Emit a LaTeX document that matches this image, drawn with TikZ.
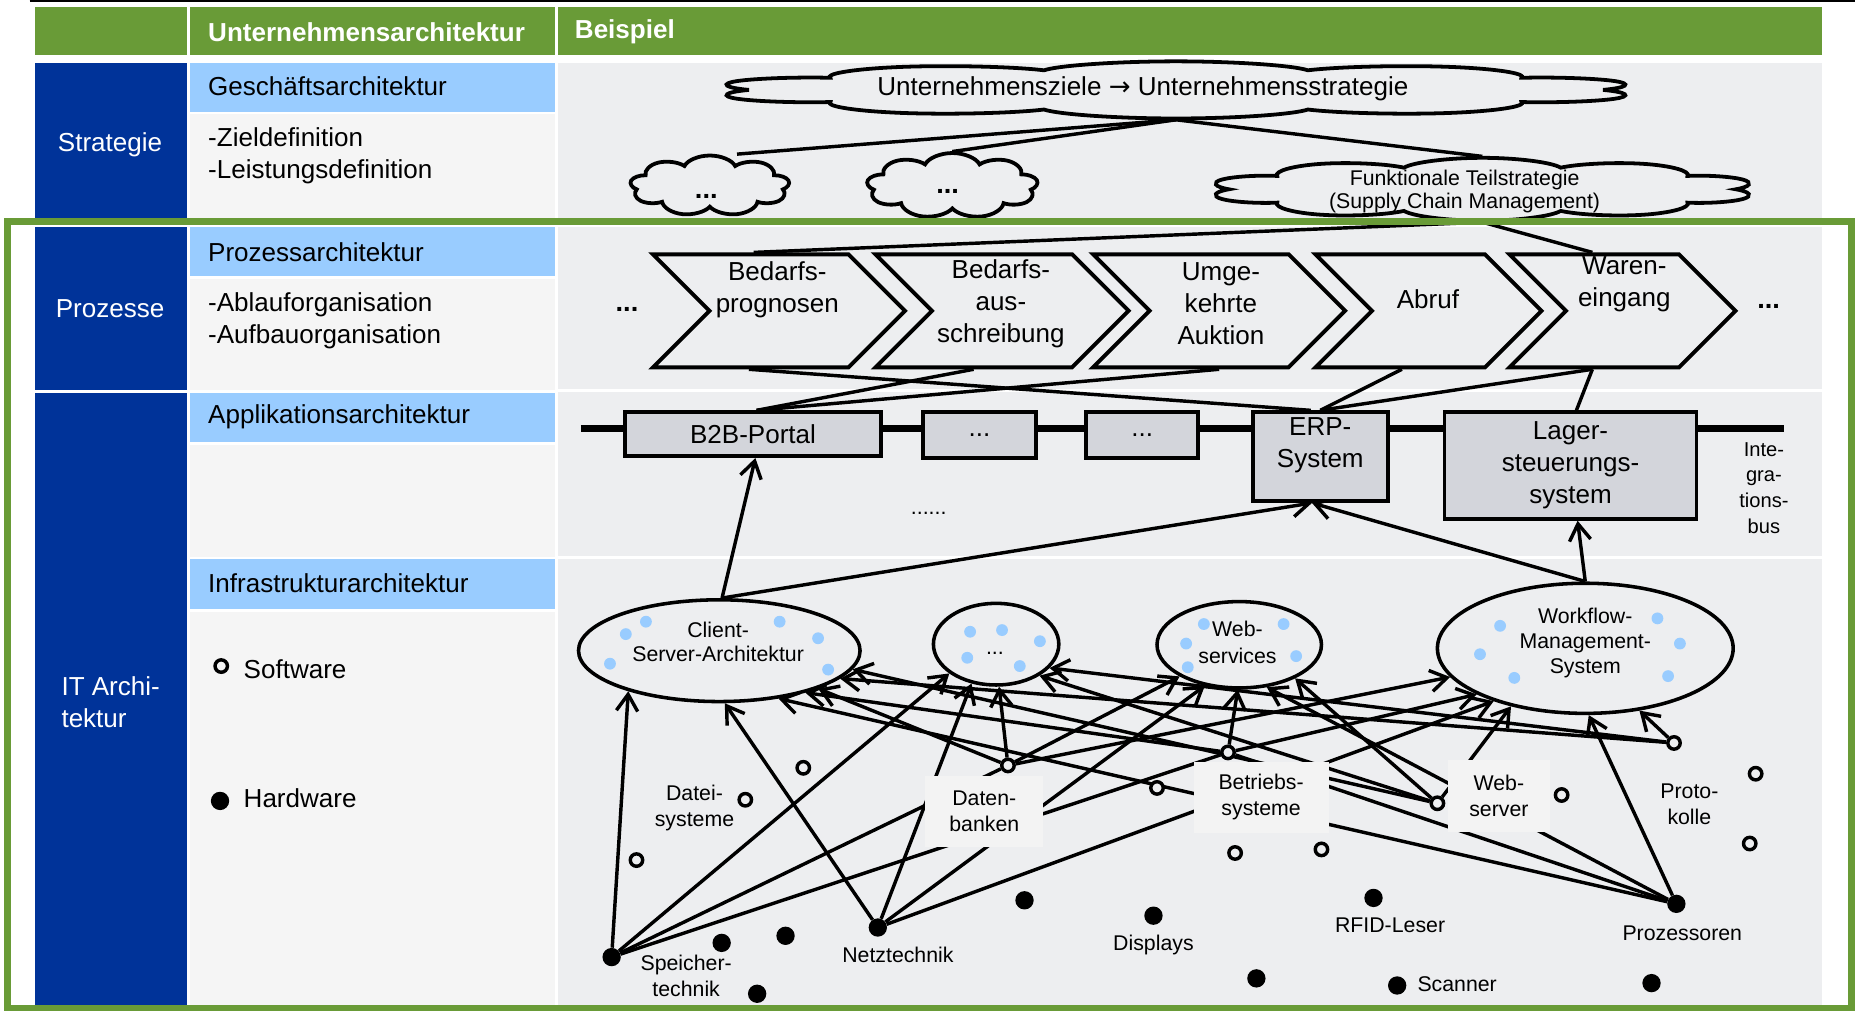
\documentclass[tikz,border=0pt]{standalone}
\usepackage{fontspec}
\setmainfont{Liberation Sans}
\newfontfamily\arrowfont{DejaVu Sans}
\usetikzlibrary{shapes.geometric,shapes.symbols,arrows.meta}

\definecolor{hdrgreen}{HTML}{699B37}
\definecolor{darkblue}{HTML}{003399}
\definecolor{lightblue}{HTML}{99CCFF}
\definecolor{cellgrey}{HTML}{F5F5F5}
\definecolor{bggrey}{HTML}{EDEEF0}
\definecolor{boxgrey}{HTML}{D3D5DB}
\definecolor{labelgrey}{HTML}{F3F3F3}

\newcommand{\fsz}[2]{\fontsize{#1}{#2}\selectfont}

\pgfdeclarelayer{background}
\pgfdeclarelayer{wires}
\pgfdeclarelayer{front}
\pgfsetlayers{background,wires,main,front}

\tikzset{
  txt/.style={inner sep=0pt, outer sep=0pt, font=\fsz{22}{27}},
  hdr/.style={txt, text=white, font=\bfseries\fsz{22}{24}},
  side/.style={txt, text=white},
  smalltxt/.style={inner sep=0pt, font=\fsz{18}{22}},
  conn/.style={line width=2.9pt, line join=round},
  arr/.style={conn, -{Straight Barb[length=14pt, width=18pt]}},
  busline/.style={line width=6pt},
  cloudsty/.style={cloud, cloud ignores aspect, cloud puffs=10, draw, line width=3.2pt,
                   fill=bggrey, inner sep=0pt, minimum width=100, minimum height=70, transform shape},
  chev/.style={signal, signal from=west, signal to=east, signal pointer angle=90, draw, line width=3.3pt, fill=bggrey, minimum height=95.5, inner sep=0pt},
  appbox/.style={rectangle, draw, line width=3.3pt, fill=boxgrey, inner sep=0pt, align=center, font=\fsz{22}{27}},
  ell/.style={ellipse, draw, line width=3pt, fill=bggrey, inner sep=0pt},
  softc/.style={circle, draw, line width=2.9pt, fill=bggrey, minimum size=10.5, inner sep=0pt},
  hardc/.style={circle, fill=black, minimum size=15.5, inner sep=0pt},
  lblbox/.style={rectangle, fill=labelgrey, inner sep=0pt, align=center, font=\fsz{18}{22}},
}

\begin{document}
\begin{tikzpicture}[x=1pt,y=-1pt]
\useasboundingbox (0,0) rectangle (1568,854);

% ---------- table grid ----------
\begin{pgfonlayer}{background}
  \draw[line width=1.5pt] (25,1) -- (1568,1);
  \fill[hdrgreen] (30,6) rectangle (158,46.5);
  \fill[hdrgreen] (160.5,6) rectangle (469.5,46.5);
  \fill[hdrgreen] (472,6) rectangle (1540,46.5);
  \fill[darkblue] (30,53.5) rectangle (158,186);
  \fill[darkblue] (30,192) rectangle (158,329.5);
  \fill[darkblue] (30,332) rectangle (158,854);
  \fill[lightblue] (160.5,53.5) rectangle (469.5,94.5);
  \fill[cellgrey]  (160.5,96.5) rectangle (469.5,186);
  \fill[lightblue] (160.5,192) rectangle (469.5,233.5);
  \fill[cellgrey]  (160.5,235.5) rectangle (469.5,329.5);
  \fill[lightblue] (160.5,332) rectangle (469.5,374);
  \fill[cellgrey]  (160.5,376) rectangle (469.5,470.5);
  \fill[lightblue] (160.5,472.5) rectangle (469.5,515);
  \fill[cellgrey]  (160.5,517) rectangle (469.5,854);
  \fill[bggrey] (472,53.5) rectangle (1540,186);
  \fill[bggrey] (472,192) rectangle (1540,329);
  \fill[bggrey] (472,331.5) rectangle (1540,470);
  \fill[bggrey] (472,472.5) rectangle (1540,854);
\end{pgfonlayer}

% ---------- header and left columns ----------
\node[hdr, anchor=west] (h1) at (176,27) {Unternehmensarchitektur};
\node[hdr, anchor=west] (h2) at (486,27) {Beispiel};

\node[side] (strat) at (93,122) {Strategie};
\node[side] (proz) at (93,261) {Prozesse};
\node[side, anchor=west, align=left] (itarch) at (52,593.5) {IT Archi-\\tektur};

\node[txt, anchor=west] (ga) at (176,73) {Geschäftsarchitektur};
\node[txt, anchor=west, align=left] (gal) at (176,132) {-Zieldefinition\\-Leistungsdefinition};
\node[txt, anchor=west] (pa) at (176,213) {Prozessarchitektur};
\node[txt, anchor=west, align=left] (pal) at (176,271) {-Ablauforganisation\\-Aufbauorganisation};
\node[txt, anchor=west] (aa) at (176,352) {Applikationsarchitektur};
\node[txt, anchor=west] (ia) at (176,493) {Infrastrukturarchitektur};
\node[softc, fill=cellgrey] (lgs) at (187,563) {};
\node[txt, anchor=west] (lgst) at (206,566) {Software};
\node[hardc] (lgh) at (186,677) {};
\node[txt, anchor=west] (lght) at (206,675) {Hardware};

% ---------- strategy clouds (a base cloud stretched to size) ----------
\begin{scope}[shift={(994,76)}, xscale=7.8, yscale=0.69]
  \node[cloudsty] (cz) at (0,0) {};
\end{scope}
\begin{scope}[shift={(600,157)}, xscale=1.35, yscale=0.73]
  \node[cloudsty, cloud puffs=9] (cl1) at (0,0) {};
\end{scope}
\begin{scope}[shift={(805,157)}, xscale=1.45, yscale=0.79]
  \node[cloudsty, cloud puffs=9] (cl2) at (0,0) {};
\end{scope}
\begin{scope}[shift={(1253,160)}, xscale=4.63, yscale=0.76]
  \node[cloudsty] (cl3) at (0,0) {};
\end{scope}
\node[txt, font=\fsz{22}{24}] (czt) at (966,75) {Unternehmensziele {\arrowfont →} Unternehmensstrategie};
\node[txt, font=\bfseries\fsz{23}{24}] (cl1t) at (597,166) {...};
\node[txt, font=\bfseries\fsz{23}{24}] (cl2t) at (801,162) {...};
\node[smalltxt, align=center, font=\fsz{18}{20}] (ft) at (1238,162) {Funktionale Teilstrategie\\(Supply Chain Management)};

% ---------- process chevrons ----------
\node[chev, minimum width=213] (ch1) at (658.5,262.75) {};
\node[chev, minimum width=214] (ch2) at (847,262.75) {};
\node[chev, minimum width=213] (ch3) at (1030.5,262.75) {};
\node[chev, minimum width=191] (ch4) at (1207.5,262.75) {};
\node[chev, minimum width=191] (ch5) at (1371.5,262.75) {};
\node[txt, align=center] (ch1t) at (657,245) {Bedarfs-\\prognosen};
\node[txt, align=center] (ch2t) at (846,257) {Bedarfs-\\aus-\\schreibung};
\node[txt, align=center] (ch3t) at (1032,257) {Umge-\\kehrte\\Auktion};
\node[txt] (ch4t) at (1207,253) {Abruf};
\node[txt, align=center] (ch5t) at (1373,240) {Waren-\\eingang};
\node[txt, font=\bfseries\fsz{23}{24}] (pdl) at (530,262) {...};
\node[txt, font=\bfseries\fsz{23}{24}] (pdr) at (1495,259) {...};

% ---------- applications on the integration bus ----------
\coordinate (busl) at (491,362.5);
\coordinate (busr) at (1508,362.5);
\node[appbox, minimum width=217, minimum height=37] (b2b) at (636.5,367) {B2B-Portal};
\node[appbox, minimum width=95, minimum height=39] (d1) at (828,368) {...};
\node[appbox, minimum width=95, minimum height=39] (d2) at (965.5,368) {...};
\node[appbox, minimum width=114, minimum height=75] (erp) at (1116,386) {};
\node[txt, align=center] (erpt) at (1116,376) {ERP-\\System};
\node[appbox, minimum width=213, minimum height=90] (lager) at (1327.5,393.5) {Lager-\\steuerungs-\\system};
\node[txt, align=center, font=\fsz{17}{21.7}] (ibus) at (1491,412.5) {Inte-\\gra-\\tions-\\bus};
\node[txt, font=\fsz{18}{20}] (adots) at (785,434) {......};

% ---------- infrastructure: architecture styles ----------
\node[ell, minimum width=238, minimum height=86] (cs) at (608,550) {};
\node[ell, minimum width=106, minimum height=69] (dots) at (842,544.5) {};
\node[ell, minimum width=139, minimum height=73] (ws) at (1047.5,545) {};
\node[ell, minimum width=250, minimum height=110] (wf) at (1340,548) {};
\node[smalltxt, align=center, font=\fsz{18}{20}] (cst) at (607,542.5) {Client-\\Server-Architektur};
\node[smalltxt] (dotst) at (841,552) {...};
\node[smalltxt, align=center] (wst) at (1046,543) {Web-\\services};
\node[smalltxt, align=center, font=\fsz{18}{21.5}] (wft) at (1340,543.5) {Workflow-\\Management-\\System};

% light blue points inside the styles
\foreach \p in {(529,536),(546,525.5),(659,525.5),(691.5,539.5),(515.6,561),(700,566),
                (820,534),(847,532.6),(879,542),(817.6,556),(862,563),
                (1017.6,527.5),(1002.6,544),(1004,564),(1085,527.5),(1095.6,554.6),
                (1268,529),(1251,553),(1280,573),(1401,522.7),(1420,544),(1410,571.5)}
  \fill[lightblue] \p circle (5);

% ---------- software components ----------
\node[softc] (s1) at (679,649) {};
\node[softc] (s2) at (630,676) {};
\node[softc] (s3) at (538,727) {};
\node[softc] (sdb) at (852,647) {};
\node[softc] (s5) at (978,666) {};
\node[softc] (sbs) at (1038,636) {};
\node[softc] (s7) at (1044,721) {};
\node[softc] (s8) at (1117,718) {};
\node[softc] (sws) at (1215,679) {};
\node[softc] (s10) at (1320,672) {};
\node[softc] (spr) at (1415,628) {};
\node[softc] (s12) at (1484,654) {};
\node[softc] (s13) at (1479,713) {};

% ---------- hardware components ----------
\node[hardc] (hsp) at (517,809) {};
\node[hardc] (h2) at (610,797) {};
\node[hardc] (h3) at (664,791) {};
\node[hardc] (h4) at (640,840) {};
\node[hardc] (hnt) at (742,784) {};
\node[hardc] (h6) at (866,761) {};
\node[hardc] (h7) at (975,774) {};
\node[hardc] (h8) at (1062,827) {};
\node[hardc] (h9) at (1161,759) {};
\node[hardc] (h10) at (1181,833) {};
\node[hardc] (hpz) at (1417,764) {};
\node[hardc] (h12) at (1396,831) {};

% ---------- component labels ----------
\node[lblbox, minimum width=100, minimum height=60] (dbl) at (832,686) {Daten-\\banken};
\node[lblbox, minimum width=114, minimum height=60] (bsl) at (1066,674) {Betriebs-\\systeme};
\node[lblbox, minimum width=86, minimum height=61] (wsl) at (1267,672.5) {Web-\\server};
\node[smalltxt, align=center] (dsl) at (587,683) {Datei-\\systeme};
\node[smalltxt, align=center] (prl) at (1428,679.5) {Proto-\\kolle};
\node[smalltxt, align=center] (spl) at (580,825) {Speicher-\\technik};
\node[smalltxt] (ntl) at (759,807) {Netztechnik};
\node[smalltxt] (dpl) at (975,799) {Displays};
\node[smalltxt] (rfl) at (1175,782) {RFID-Leser};
\node[smalltxt, anchor=west] (scl) at (1198,832) {Scanner};
\node[smalltxt] (pzl) at (1422,789) {Prozessoren};

% ---------- connectors ----------
\begin{pgfonlayer}{wires}
  \draw[busline] (busl) -- (busr);
  % strategy tree
  \draw[conn] (cz.south) -- ([xshift=23pt]cl1.north);
  \draw[conn] (cz.south) -- (cl2.north);
  \draw[conn] (cz.south) -- (cl3.north);
  \draw[conn] (cl3.south) -- ([xshift=-21.5pt]ch1.north);
  \draw[conn] (cl3.south) -- ([xshift=-25.5pt]ch5.north);
  % processes to applications
  \draw[conn] ([xshift=-25.5pt]ch1.south) -- ([xshift=-8pt]erp.north);
  \draw[conn] ([xshift=-24pt]ch2.south) -- ([xshift=3pt]b2b.north);
  \draw[conn] (ch3.south) -- ([xshift=3pt]b2b.north);
  \draw[conn] ([xshift=-22.5pt]ch4.south) -- (erp.north);
  \draw[conn] ([xshift=-25.5pt]ch5.south) -- (erp.north);
  \draw[conn] ([xshift=-25.5pt]ch5.south) -- ([xshift=5pt]lager.north);
  % infrastructure to applications
  \draw[arr] (cs.87) -- ([xshift=2pt]b2b.south);
  \draw[arr] (cs.87) -- ([xshift=-7pt]erp.south);
  \draw[arr] (wf.north) -- ([xshift=-7pt]erp.south);
  \draw[arr] (wf.north) -- ([xshift=6pt]lager.south);
  % storage technology
  \draw[arr] (hsp) -- (cs.-156);
  \draw[arr] (hsp) -- (dots.-148);
  \draw[conn] (hsp) -- (sdb);
  \draw[conn] (hsp) -- (sbs);
  % network technology
  \draw[arr] (hnt) -- (cs.-84);
  \draw[arr] (hnt) -- (dots.-122);
  \draw[arr] (hnt) -- (ws.-130);
  \draw[arr] (hnt) -- (wf.-150);
  % processors
  \draw[arr] (hpz) -- (cs.-39);
  \draw[arr] (hpz) -- (ws.-57);
  \draw[arr] (hpz) -- (wf.-87);
  \draw[conn] (hpz) -- (sbs);
  % databases
  \draw[arr] (sdb) -- (cs.-21);
  \draw[arr] (sdb) -- (dots.-86);
  \draw[arr] (sdb) -- (ws.-152);
  \draw[arr] (sdb) -- (wf.-168);
  % operating systems
  \draw[arr] (sbs) -- (cs.-26);
  \draw[arr] (sbs) -- (ws.-92);
  \draw[arr] (sbs) -- (wf.-157);
  % web server
  \draw[arr] (sws) -- (cs.-8);
  \draw[arr] (sws) -- (dots.-36);
  \draw[arr] (sws) -- (ws.-31);
  \draw[arr] (sws) -- (wf.-142);
  % protocols
  \draw[arr] (spr) -- (cs.-13);
  \draw[arr] (spr) -- (dots.-24);
  \draw[arr] (spr) -- (wf.-49);
\end{pgfonlayer}

% ---------- green frame around processes and IT ----------
\begin{pgfonlayer}{front}
  \draw[hdrgreen, line width=5.6pt] (6.5,187.4) rectangle (1565,852.5);
\end{pgfonlayer}
\end{tikzpicture}
\end{document}
